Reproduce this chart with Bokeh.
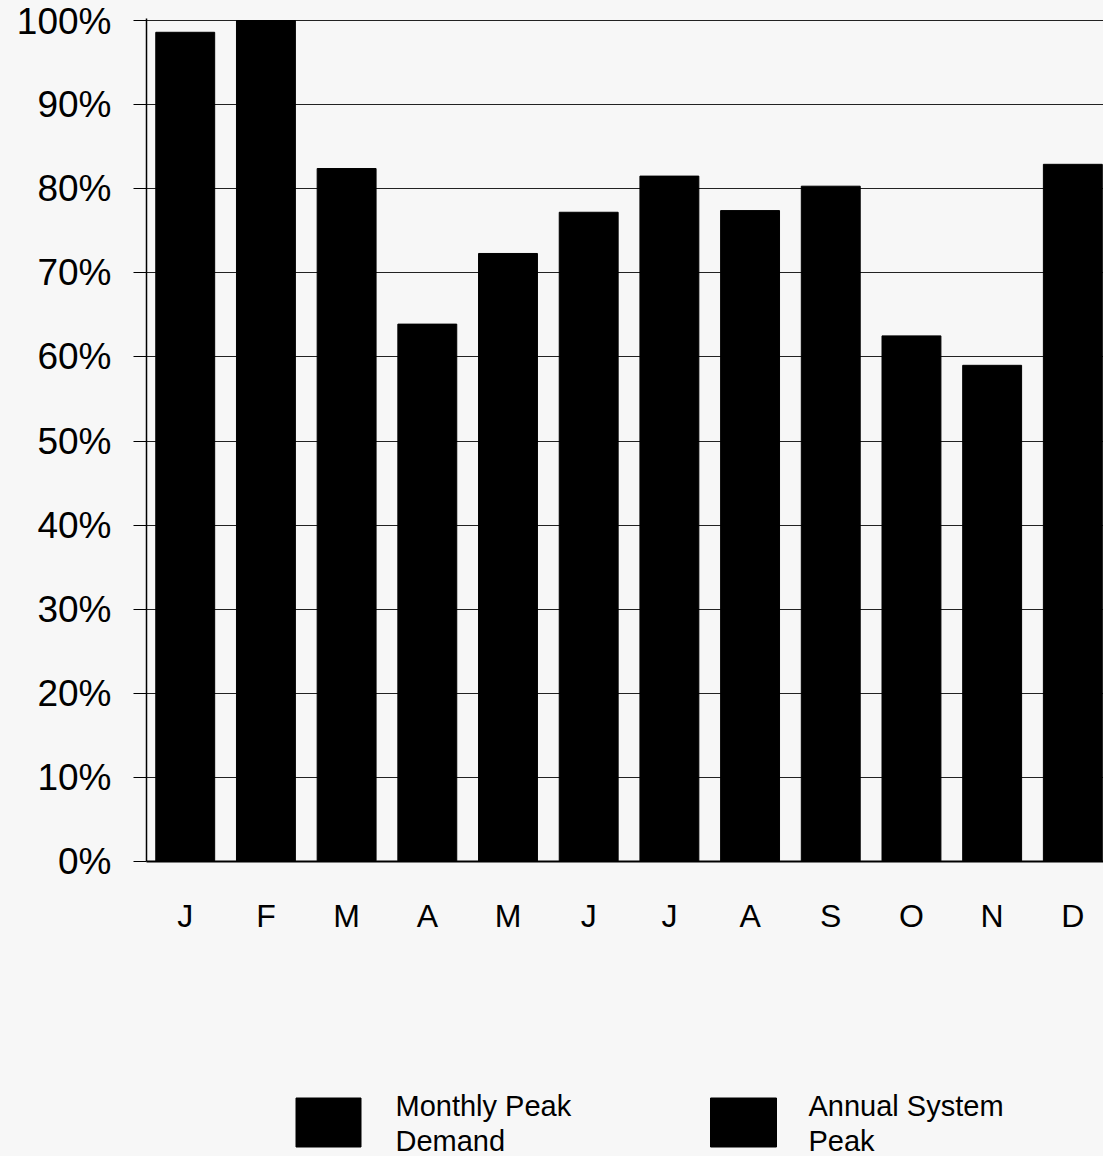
from bokeh.plotting import figure
from bokeh.layouts import column
from bokeh.models import Range1d, FixedTicker, NumeralTickFormatter, ColumnDataSource
from bokeh.core.properties import value
from bokeh.embed import file_html
from bokeh.resources import INLINE

months = ["J", "F", "M", "A", "M", "J", "J", "A", "S", "O", "N", "D"]
peak_pct = [0.986, 1.000, 0.824, 0.639, 0.723, 0.772, 0.815, 0.774, 0.803, 0.625, 0.590, 0.829]
y_ticks = [0.0, 0.1, 0.2, 0.3, 0.4, 0.5, 0.6, 0.7, 0.8, 0.9, 1.0]
legend_line1 = ["Monthly Peak", "Annual System"]
legend_line2 = ["Demand", "Peak"]

BG = "#f7f7f7"
FONT = "Liberation Sans"

xs = list(range(len(months)))
src = ColumnDataSource(dict(x=xs, top=peak_pct))

p = figure(width=1103, height=960, output_backend="svg", toolbar_location=None,
           x_range=Range1d(-0.48, 11.38), y_range=Range1d(0, 1.0024),
           min_border_left=146, min_border_right=0, min_border_top=18, min_border_bottom=99,
           background_fill_color=BG, border_fill_color=BG)
p.outline_line_color = None

p.vbar(x="x", top="top", width=0.73, bottom=0, source=src,
       fill_color="black", line_color="black")

p.ygrid.ticker = FixedTicker(ticks=y_ticks)
p.ygrid.grid_line_color = "#222222"
p.ygrid.grid_line_width = 1
p.xgrid.grid_line_color = None

p.yaxis.ticker = FixedTicker(ticks=y_ticks)
p.yaxis.formatter = NumeralTickFormatter(format="0%")
p.yaxis.major_tick_out = 13
p.yaxis.major_tick_in = 0
p.yaxis.minor_tick_line_color = None
p.yaxis.major_tick_line_color = "black"
p.yaxis.axis_line_color = "black"
p.yaxis.axis_line_width = 1.5
p.yaxis.major_label_text_font = FONT
p.yaxis.major_label_text_font_size = "37px"
p.yaxis.major_label_text_color = "black"
p.yaxis.major_label_standoff = 22

p.xaxis.ticker = FixedTicker(ticks=xs)
p.xaxis.major_label_overrides = {i: m for i, m in enumerate(months)}
p.xaxis.major_tick_line_color = None
p.xaxis.minor_tick_line_color = None
p.xaxis.axis_line_color = "black"
p.xaxis.axis_line_width = 2
p.xaxis.major_label_text_font = FONT
p.xaxis.major_label_text_font_size = "32px"
p.xaxis.major_label_text_color = "black"
p.xaxis.major_label_standoff = 30

# legend panel (frame aligned with main plot: x in page pixels)
lg = figure(width=1103, height=196, output_backend="svg", toolbar_location=None,
            x_range=Range1d(146, 1103), y_range=Range1d(196, 0),
            x_axis_location=None, y_axis_location=None,
            min_border_left=146, min_border_right=0, min_border_top=0, min_border_bottom=0,
            background_fill_color=BG, border_fill_color=BG)
lg.outline_line_color = None
lg.grid.visible = False
sq = ColumnDataSource(dict(x=[328, 743], y=[162, 162], w=[65, 66], h=[49, 49]))
lg.rect(x="x", y="y", width="w", height="h", source=sq, fill_color="black", line_color="black")
lg.text(x=[395, 808], y=[145, 145], text=legend_line1, text_font=value(FONT),
        text_font_size="29px", text_baseline="middle", text_color="black")
lg.text(x=[395, 808], y=[180, 180], text=legend_line2, text_font=value(FONT),
        text_font_size="29px", text_baseline="middle", text_color="black")

layout = column(p, lg, spacing=0, styles={"background-color": BG})
open("out.html", "w").write(file_html(layout, INLINE))
